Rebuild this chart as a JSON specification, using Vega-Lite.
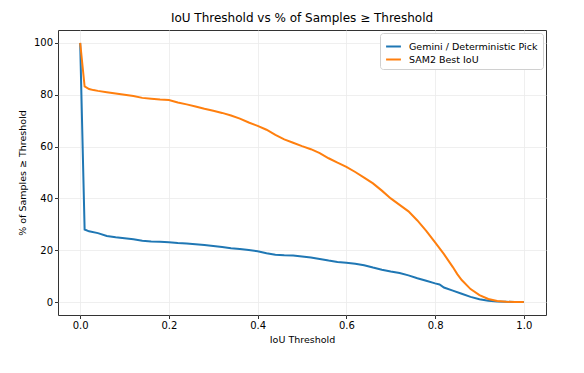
{
  "$schema": "https://vega.github.io/schema/vega-lite/v6.json",
  "width": 488,
  "height": 285,
  "autosize": {"type": "none"},
  "padding": {"left": 58, "top": 30, "right": 38, "bottom": 58},
  "background": "white",
  "title": {"text": "IoU Threshold vs % of Samples ≥ Threshold", "font": "DejaVu Sans", "fontSize": 12, "fontWeight": "normal", "color": "#000", "offset": 5},
  "config": {
    "view": {"stroke": "#333", "strokeWidth": 1},
    "axis": {"labelFont": "DejaVu Sans", "titleFont": "DejaVu Sans", "labelFontSize": 10, "titleFontSize": 9.5, "titleFontWeight": "normal", "labelColor": "#000", "titleColor": "#000", "gridColor": "#ebebeb", "gridWidth": 0.8, "tickColor": "#333", "domain": false, "tickSize": 3.5}
  },
  "data": {"values": [
    {"t": 0, "v": 100, "s": "Gemini / Deterministic Pick"},
    {"t": 0.01, "v": 28, "s": "Gemini / Deterministic Pick"},
    {"t": 0.02, "v": 27.3, "s": "Gemini / Deterministic Pick"},
    {"t": 0.04, "v": 26.6, "s": "Gemini / Deterministic Pick"},
    {"t": 0.06, "v": 25.5, "s": "Gemini / Deterministic Pick"},
    {"t": 0.08, "v": 25, "s": "Gemini / Deterministic Pick"},
    {"t": 0.10, "v": 24.6, "s": "Gemini / Deterministic Pick"},
    {"t": 0.12, "v": 24.2, "s": "Gemini / Deterministic Pick"},
    {"t": 0.14, "v": 23.7, "s": "Gemini / Deterministic Pick"},
    {"t": 0.16, "v": 23.4, "s": "Gemini / Deterministic Pick"},
    {"t": 0.18, "v": 23.3, "s": "Gemini / Deterministic Pick"},
    {"t": 0.20, "v": 23.1, "s": "Gemini / Deterministic Pick"},
    {"t": 0.22, "v": 22.8, "s": "Gemini / Deterministic Pick"},
    {"t": 0.24, "v": 22.6, "s": "Gemini / Deterministic Pick"},
    {"t": 0.26, "v": 22.3, "s": "Gemini / Deterministic Pick"},
    {"t": 0.28, "v": 22, "s": "Gemini / Deterministic Pick"},
    {"t": 0.30, "v": 21.6, "s": "Gemini / Deterministic Pick"},
    {"t": 0.32, "v": 21.2, "s": "Gemini / Deterministic Pick"},
    {"t": 0.34, "v": 20.8, "s": "Gemini / Deterministic Pick"},
    {"t": 0.36, "v": 20.5, "s": "Gemini / Deterministic Pick"},
    {"t": 0.38, "v": 20.1, "s": "Gemini / Deterministic Pick"},
    {"t": 0.40, "v": 19.6, "s": "Gemini / Deterministic Pick"},
    {"t": 0.42, "v": 18.8, "s": "Gemini / Deterministic Pick"},
    {"t": 0.44, "v": 18.3, "s": "Gemini / Deterministic Pick"},
    {"t": 0.46, "v": 18.1, "s": "Gemini / Deterministic Pick"},
    {"t": 0.48, "v": 18, "s": "Gemini / Deterministic Pick"},
    {"t": 0.50, "v": 17.6, "s": "Gemini / Deterministic Pick"},
    {"t": 0.52, "v": 17.2, "s": "Gemini / Deterministic Pick"},
    {"t": 0.54, "v": 16.6, "s": "Gemini / Deterministic Pick"},
    {"t": 0.56, "v": 16, "s": "Gemini / Deterministic Pick"},
    {"t": 0.58, "v": 15.5, "s": "Gemini / Deterministic Pick"},
    {"t": 0.60, "v": 15.2, "s": "Gemini / Deterministic Pick"},
    {"t": 0.62, "v": 14.8, "s": "Gemini / Deterministic Pick"},
    {"t": 0.64, "v": 14.2, "s": "Gemini / Deterministic Pick"},
    {"t": 0.66, "v": 13.3, "s": "Gemini / Deterministic Pick"},
    {"t": 0.68, "v": 12.5, "s": "Gemini / Deterministic Pick"},
    {"t": 0.70, "v": 11.8, "s": "Gemini / Deterministic Pick"},
    {"t": 0.72, "v": 11.2, "s": "Gemini / Deterministic Pick"},
    {"t": 0.74, "v": 10.3, "s": "Gemini / Deterministic Pick"},
    {"t": 0.76, "v": 9.2, "s": "Gemini / Deterministic Pick"},
    {"t": 0.78, "v": 8.2, "s": "Gemini / Deterministic Pick"},
    {"t": 0.80, "v": 7.2, "s": "Gemini / Deterministic Pick"},
    {"t": 0.81, "v": 6.8, "s": "Gemini / Deterministic Pick"},
    {"t": 0.82, "v": 5.6, "s": "Gemini / Deterministic Pick"},
    {"t": 0.84, "v": 4.4, "s": "Gemini / Deterministic Pick"},
    {"t": 0.86, "v": 3.2, "s": "Gemini / Deterministic Pick"},
    {"t": 0.88, "v": 2, "s": "Gemini / Deterministic Pick"},
    {"t": 0.90, "v": 1.1, "s": "Gemini / Deterministic Pick"},
    {"t": 0.92, "v": 0.5, "s": "Gemini / Deterministic Pick"},
    {"t": 0.94, "v": 0.2, "s": "Gemini / Deterministic Pick"},
    {"t": 0.96, "v": 0.1, "s": "Gemini / Deterministic Pick"},
    {"t": 0.98, "v": 0, "s": "Gemini / Deterministic Pick"},
    {"t": 1.0, "v": 0, "s": "Gemini / Deterministic Pick"},
    {"t": 0, "v": 100, "s": "SAM2 Best IoU"},
    {"t": 0.01, "v": 83.2, "s": "SAM2 Best IoU"},
    {"t": 0.02, "v": 82.2, "s": "SAM2 Best IoU"},
    {"t": 0.03, "v": 81.8, "s": "SAM2 Best IoU"},
    {"t": 0.04, "v": 81.5, "s": "SAM2 Best IoU"},
    {"t": 0.06, "v": 81, "s": "SAM2 Best IoU"},
    {"t": 0.08, "v": 80.5, "s": "SAM2 Best IoU"},
    {"t": 0.10, "v": 80, "s": "SAM2 Best IoU"},
    {"t": 0.12, "v": 79.5, "s": "SAM2 Best IoU"},
    {"t": 0.14, "v": 78.8, "s": "SAM2 Best IoU"},
    {"t": 0.16, "v": 78.5, "s": "SAM2 Best IoU"},
    {"t": 0.18, "v": 78.2, "s": "SAM2 Best IoU"},
    {"t": 0.20, "v": 78, "s": "SAM2 Best IoU"},
    {"t": 0.22, "v": 77, "s": "SAM2 Best IoU"},
    {"t": 0.24, "v": 76.3, "s": "SAM2 Best IoU"},
    {"t": 0.26, "v": 75.5, "s": "SAM2 Best IoU"},
    {"t": 0.28, "v": 74.6, "s": "SAM2 Best IoU"},
    {"t": 0.30, "v": 73.8, "s": "SAM2 Best IoU"},
    {"t": 0.32, "v": 73, "s": "SAM2 Best IoU"},
    {"t": 0.34, "v": 72, "s": "SAM2 Best IoU"},
    {"t": 0.36, "v": 70.8, "s": "SAM2 Best IoU"},
    {"t": 0.38, "v": 69.3, "s": "SAM2 Best IoU"},
    {"t": 0.40, "v": 68, "s": "SAM2 Best IoU"},
    {"t": 0.42, "v": 66.5, "s": "SAM2 Best IoU"},
    {"t": 0.44, "v": 64.5, "s": "SAM2 Best IoU"},
    {"t": 0.46, "v": 62.8, "s": "SAM2 Best IoU"},
    {"t": 0.48, "v": 61.5, "s": "SAM2 Best IoU"},
    {"t": 0.50, "v": 60.2, "s": "SAM2 Best IoU"},
    {"t": 0.52, "v": 59, "s": "SAM2 Best IoU"},
    {"t": 0.54, "v": 57.5, "s": "SAM2 Best IoU"},
    {"t": 0.56, "v": 55.5, "s": "SAM2 Best IoU"},
    {"t": 0.58, "v": 53.8, "s": "SAM2 Best IoU"},
    {"t": 0.60, "v": 52.2, "s": "SAM2 Best IoU"},
    {"t": 0.62, "v": 50.2, "s": "SAM2 Best IoU"},
    {"t": 0.64, "v": 48, "s": "SAM2 Best IoU"},
    {"t": 0.66, "v": 45.8, "s": "SAM2 Best IoU"},
    {"t": 0.68, "v": 43, "s": "SAM2 Best IoU"},
    {"t": 0.70, "v": 40, "s": "SAM2 Best IoU"},
    {"t": 0.72, "v": 37.5, "s": "SAM2 Best IoU"},
    {"t": 0.74, "v": 35, "s": "SAM2 Best IoU"},
    {"t": 0.76, "v": 31.5, "s": "SAM2 Best IoU"},
    {"t": 0.78, "v": 27.5, "s": "SAM2 Best IoU"},
    {"t": 0.80, "v": 23, "s": "SAM2 Best IoU"},
    {"t": 0.82, "v": 18.5, "s": "SAM2 Best IoU"},
    {"t": 0.84, "v": 13.5, "s": "SAM2 Best IoU"},
    {"t": 0.85, "v": 10.8, "s": "SAM2 Best IoU"},
    {"t": 0.86, "v": 8.5, "s": "SAM2 Best IoU"},
    {"t": 0.88, "v": 5, "s": "SAM2 Best IoU"},
    {"t": 0.90, "v": 2.7, "s": "SAM2 Best IoU"},
    {"t": 0.92, "v": 1.2, "s": "SAM2 Best IoU"},
    {"t": 0.94, "v": 0.4, "s": "SAM2 Best IoU"},
    {"t": 0.96, "v": 0.1, "s": "SAM2 Best IoU"},
    {"t": 0.98, "v": 0, "s": "SAM2 Best IoU"},
    {"t": 1.0, "v": 0, "s": "SAM2 Best IoU"}
  ]},
  "mark": {"type": "line", "strokeWidth": 2, "clip": true},
  "encoding": {
    "x": {"field": "t", "type": "quantitative", "title": "IoU Threshold",
      "scale": {"domain": [-0.05, 1.05], "nice": false, "zero": false},
      "axis": {"values": [0, 0.2, 0.4, 0.6, 0.8, 1.0], "format": ".1f", "labelPadding": 2, "titlePadding": 4}},
    "y": {"field": "v", "type": "quantitative", "title": "% of Samples ≥ Threshold",
      "scale": {"domain": [-5, 105], "nice": false, "zero": false},
      "axis": {"values": [0, 20, 40, 60, 80, 100], "labelPadding": 2, "titlePadding": 6}},
    "color": {"field": "s", "type": "nominal", "title": null,
      "scale": {"domain": ["Gemini / Deterministic Pick", "SAM2 Best IoU"], "range": ["#1f77b4", "#ff7f0e"]},
      "legend": {"orient": "top-right", "offset": 3, "symbolType": "stroke", "symbolStrokeWidth": 2, "symbolSize": 220, "labelFont": "DejaVu Sans", "labelFontSize": 9.5, "labelColor": "#000", "fillColor": "white", "strokeColor": "#d0d0d0", "cornerRadius": 3, "padding": 5, "rowPadding": 0, "labelOffset": 7}}
  }
}
